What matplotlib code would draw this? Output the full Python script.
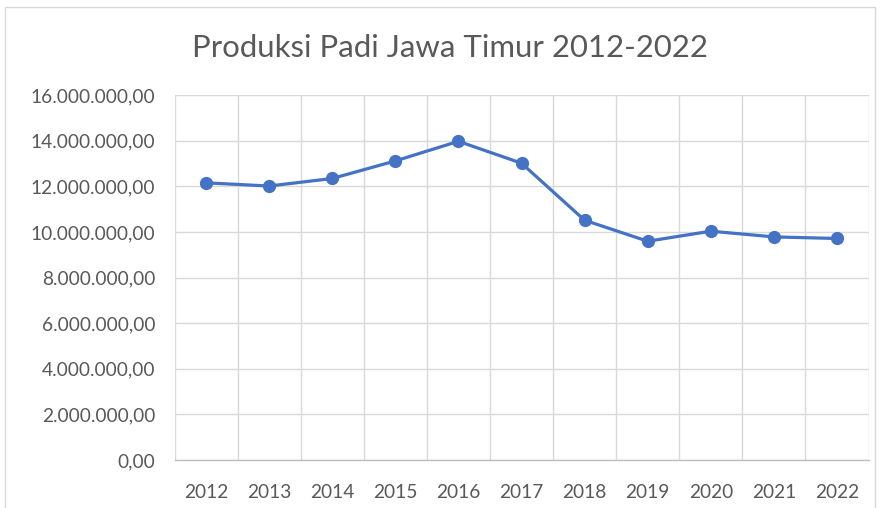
import matplotlib
matplotlib.use("Agg")
import matplotlib.pyplot as plt
from matplotlib.ticker import FuncFormatter, MultipleLocator
from matplotlib.patches import Rectangle

years = ["2012", "2013", "2014", "2015", "2016", "2017", "2018", "2019", "2020", "2021", "2022"]
production = [12150000, 12010000, 12340000, 13110000, 13970000, 13010000,
              10510000, 9590000, 10030000, 9780000, 9710000]
title = "Produksi Padi Jawa Timur 2012-2022"

plt.rcParams['font.family'] = ['Lato', 'DejaVu Sans']

fig = plt.figure(figsize=(8.8, 5.08), dpi=100)
fig.patch.set_facecolor("white")
fig.patches.append(Rectangle((5/880, -0.01), 870/880, 1 - 7/508 + 0.01,
                             transform=fig.transFigure, fill=False,
                             edgecolor="#d9d9d9", linewidth=1.0))

ax = fig.add_axes([174.5/880, 1 - 460/508, 694/880, 365/508])
x = list(range(len(years)))
ax.plot(x, production, color="#4472c4", linewidth=2.3, marker="o",
        markersize=8.5, markerfacecolor="#4472c4", markeredgecolor="#4472c4",
        zorder=3)

ax.set_xlim(-0.5, len(years) - 0.5)
ax.set_ylim(0, 16000000)
ax.yaxis.set_major_locator(MultipleLocator(2000000))

def fmt(v, pos):
    s = f"{int(round(v)):,}".replace(",", ".")
    return s + ",00"
ax.yaxis.set_major_formatter(FuncFormatter(fmt))

ax.set_xticks(x)
ax.set_xticklabels(years)
ax.set_xticks([i - 0.5 for i in range(len(years) + 1)], minor=True)
ax.grid(True, which="major", axis="y", color="#d9d9d9", linewidth=1.0, zorder=0)
ax.grid(True, which="minor", axis="x", color="#d9d9d9", linewidth=1.0, zorder=0)
ax.tick_params(axis="both", which="both", length=0)
ax.tick_params(axis="y", labelsize=13.8, labelcolor="#595959", pad=14)
ax.tick_params(axis="x", labelsize=13.8, labelcolor="#595959", pad=17)

for side in ["top", "right", "left"]:
    ax.spines[side].set_visible(False)
ax.spines["bottom"].set_color("#bfbfbf")
ax.spines["bottom"].set_linewidth(1.0)

fig.text(450/880, 1 - 48/508, title, ha="center", va="center",
         fontsize=22.4, color="#595959")

fig.savefig("out.png", dpi=100, facecolor="white")
